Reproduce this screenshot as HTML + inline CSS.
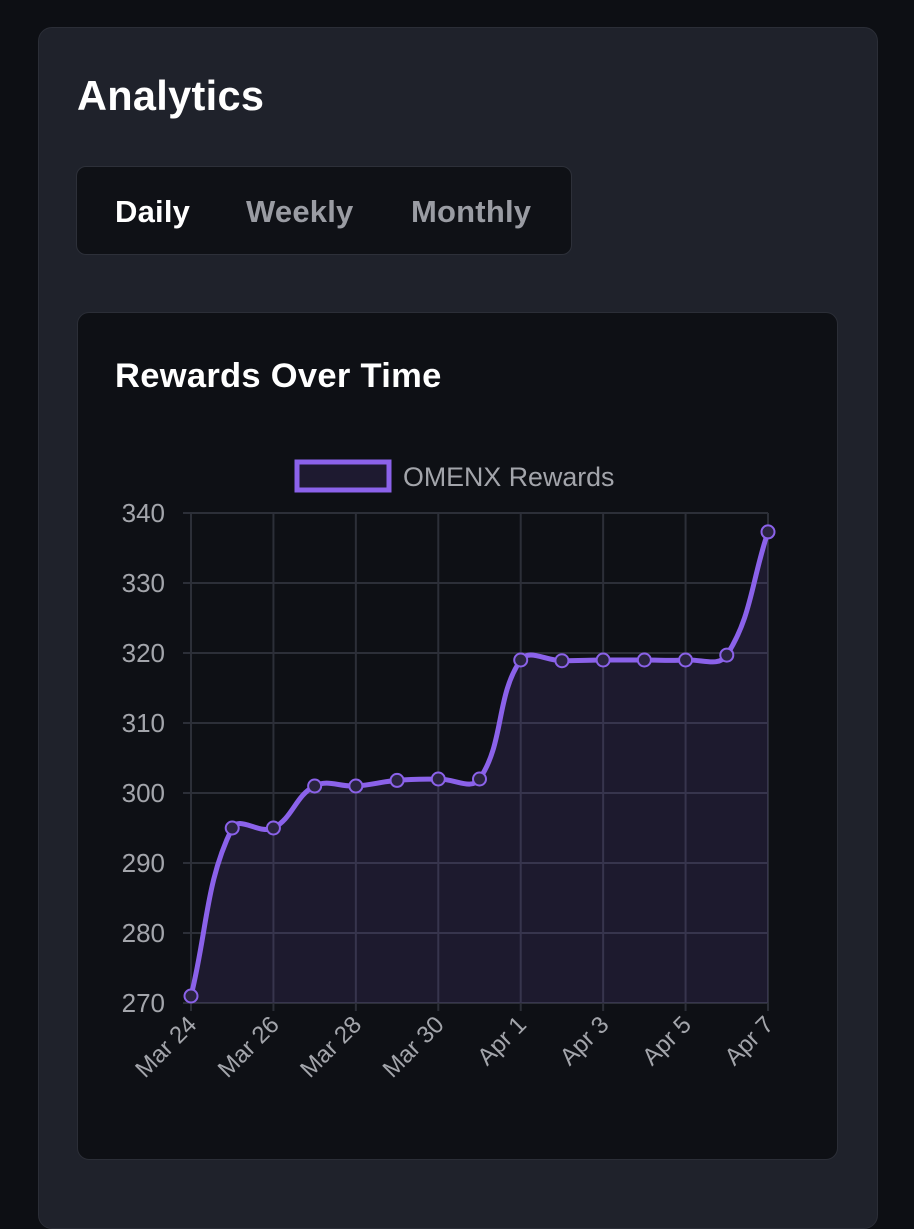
<!DOCTYPE html>
<html><head><meta charset="utf-8"><style>
body{margin:0;width:914px;height:1200px;background:#0d0f14;font-family:"Liberation Sans",sans-serif;overflow:hidden;position:relative}
.card{position:absolute;left:38px;top:27px;width:838px;height:1200px;background:#1f222b;border:1px solid #2b2e37;border-radius:14px}
h1{position:absolute;left:77px;top:72px;margin:0;font-size:41.5px;color:#fff;font-weight:bold;letter-spacing:0.3px}
.tabs{position:absolute;left:76px;top:166px;width:494px;height:87px;background:#0f1116;border:1px solid #2d3039;border-radius:10px}
.tab{position:absolute;top:27px;font-size:31px;color:#9a9ca3;font-weight:bold;letter-spacing:0.2px}
.cc{position:absolute;left:77px;top:312px;width:759px;height:846px;background:#0e1015;border:1px solid #2b2e37;border-radius:12px}
h2{position:absolute;left:115px;top:357px;margin:0;font-size:34.5px;color:#fff;font-weight:bold;letter-spacing:0.3px}
svg{position:absolute;left:0;top:0}
</style></head><body>
<div class="card"></div>
<h1>Analytics</h1>
<div class="tabs">
<span class="tab" style="left:38px;color:#fff">Daily</span>
<span class="tab" style="left:169px">Weekly</span>
<span class="tab" style="left:334px">Monthly</span>
</div>
<div class="cc"></div>
<h2>Rewards Over Time</h2>
<svg id="s" width="914" height="1200"></svg>
<script>
const labels=["Mar 24","Mar 25","Mar 26","Mar 27","Mar 28","Mar 29","Mar 30","Mar 31","Apr 1","Apr 2","Apr 3","Apr 4","Apr 5","Apr 6","Apr 7"];
const values=[271,295,295,301,301,301.8,302,302,319,318.9,319,319,319,319.7,337.3];
const yTicks=[270,280,290,300,310,320,330,340];
const X0=191,X1=768,Y0=1003,Y1=513,YMIN=270,YMAX=340;
const xs=i=>X0+(X1-X0)*i/(labels.length-1);
const ys=v=>Y0-(v-YMIN)/(YMAX-YMIN)*(Y0-Y1);
const s=document.getElementById('s');const NS='http://www.w3.org/2000/svg';
function mk(t,a,txt){const e=document.createElementNS(NS,t);for(const k in a)e.setAttribute(k,a[k]);if(txt!=null)e.textContent=txt;s.appendChild(e);return e;}
yTicks.forEach(v=>{const l=mk('line',{x1:X0-8,x2:X1,y1:ys(v),y2:ys(v),stroke:'#2c2f38','stroke-width':2});


const t=mk('text',{x:X0-26,y:ys(v)+9,'text-anchor':'end','font-size':26,fill:'#a3a5ab'},v);

});
labels.forEach((lb,i)=>{if(i%2)return;const x=xs(i);
const l=mk('line',{x1:x,x2:x,y1:Y1,y2:Y0+8,stroke:'#2c2f38','stroke-width':2});


const t=mk('text',{x:x+7,y:Y0+23,'text-anchor':'end','font-size':24,fill:'#a3a5ab',transform:`rotate(-45 ${x+7} ${Y0+23})`},lb);

});
const P=values.map((v,i)=>[xs(i),ys(v)]);const T=0.4;
let d=`M${P[0][0]},${P[0][1]}`;
const cps=P.map((p,i)=>{const a=P[Math.max(i-1,0)],c=P[Math.min(i+1,P.length-1)];
const d01=Math.hypot(p[0]-a[0],p[1]-a[1]),d12=Math.hypot(c[0]-p[0],c[1]-p[1]);
const s01=d01/(d01+d12||1),s12=d12/(d01+d12||1);const fa=T*s01,fb=T*s12;
return{pv:[p[0]-fa*(c[0]-a[0]),p[1]-fa*(c[1]-a[1])],nx:[p[0]+fb*(c[0]-a[0]),p[1]+fb*(c[1]-a[1])]};});
for(let i=1;i<P.length;i++){const c1=cps[i-1].nx,c2=cps[i].pv;d+=` C${c1[0]},${Math.min(Y0,c1[1])} ${c2[0]},${Math.min(Y0,c2[1])} ${P[i][0]},${P[i][1]}`;}
const area=mk('path',{d:d+` L${X1},${Y0} L${X0},${Y0} Z`,fill:'rgba(138,99,232,0.12)'});


const ln=mk('path',{d:d,fill:'none',stroke:'#8b62ea','stroke-width':5});


P.forEach(p=>{const c=mk('circle',{cx:p[0],cy:p[1],r:6.5,fill:'#2a2440',stroke:'#8b62ea','stroke-width':2});

});
const lg=mk('rect',{x:297,y:462,width:92,height:28,fill:'#1e1a30',stroke:'#8b62ea','stroke-width':5});


const lt=mk('text',{x:403,y:486,'font-size':26.8,fill:'#a3a5ab'},'OMENX Rewards');


</script>
</body></html>
